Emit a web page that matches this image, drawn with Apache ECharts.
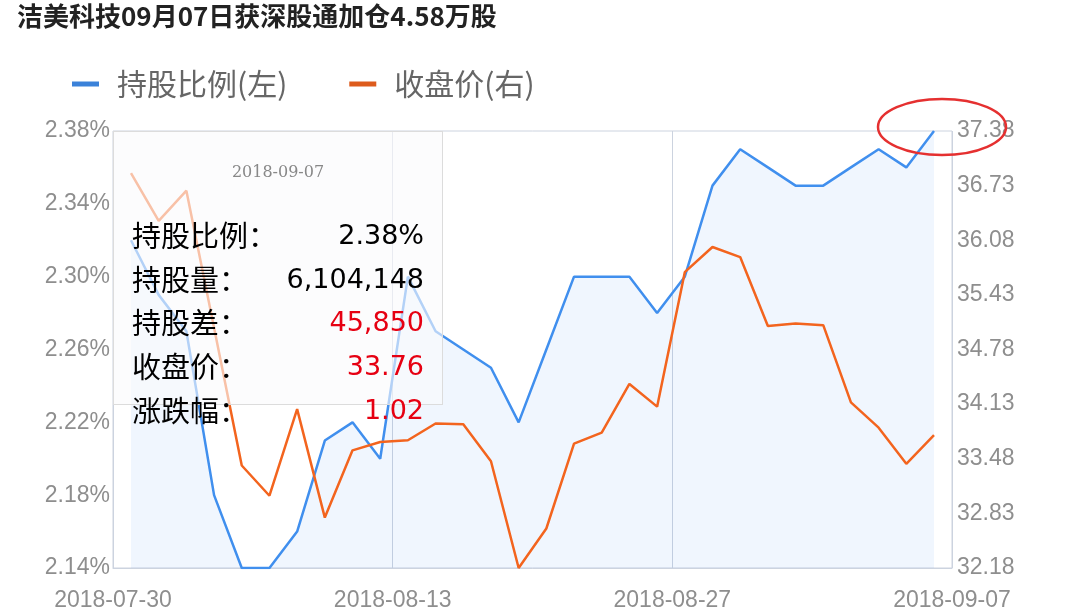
<!DOCTYPE html>
<html>
<head>
<meta charset="utf-8">
<title>洁美科技 深股通持股</title>
<script src="https://cdn.jsdelivr.net/npm/echarts@6/dist/echarts.min.js"></script>
<style>
    html, body { margin: 0; padding: 0; background: #fff; }
    #main { width: 1069px; height: 616px; }
</style>
</head>
<body>
<div id="main"></div>
<script>
// trading days shown on the chart
var dates = [
    '2018-07-30', '2018-07-31', '2018-08-01', '2018-08-02', '2018-08-03',
    '2018-08-06', '2018-08-07', '2018-08-08', '2018-08-09', '2018-08-10',
    '2018-08-13', '2018-08-14', '2018-08-15', '2018-08-16', '2018-08-17',
    '2018-08-20', '2018-08-21', '2018-08-22', '2018-08-23', '2018-08-24',
    '2018-08-27', '2018-08-28', '2018-08-29', '2018-08-30', '2018-08-31',
    '2018-09-03', '2018-09-04', '2018-09-05', '2018-09-06', '2018-09-07'
];
// 持股比例 (%)
var holdRatio = [
    2.32, 2.29, 2.27, 2.18, 2.14, 2.14, 2.16, 2.21, 2.22, 2.20,
    2.30, 2.27, 2.26, 2.25, 2.22, 2.26, 2.30, 2.30, 2.30, 2.28,
    2.30, 2.35, 2.37, 2.36, 2.35, 2.35, 2.36, 2.37, 2.36, 2.38
];
// 收盘价
var closePrice = [
    36.88, 36.31, 36.67, 35.04, 33.40, 33.04, 34.07, 32.78, 33.58, 33.68,
    33.70, 33.90, 33.89, 33.45, 32.18, 32.65, 33.66, 33.79, 34.37, 34.10,
    35.70, 36.00, 35.88, 35.06, 35.09, 35.07, 34.15, 33.85, 33.42, 33.76
];
// bottom axis labels (at 0, 10, 20, 30 trading-day boundaries)
var xTickLabels = ['2018-07-30', '2018-08-13', '2018-08-27', '2018-09-07'];
// figures for the day shown in the tooltip
var shownIndex = 29;
var heldShares = 6104148;
var heldDiff = 45850;

(function () {
    var chartDom = document.getElementById('main');
    var myChart = echarts.init(chartDom);
    var labelColor = '#8e8e8e';
    var lineColor = '#ccd3df';
    var axisFont = '"Liberation Sans", Arial, sans-serif';

    function fmt(n) {
        return n.toString().replace(/\B(?=(\d{3})+(?!\d))/g, ',');
    }

    function row(i, name, value, color) {
        return '<div style="position:absolute;left:18px;right:18px;top:' + (81 + i * 43.7) + 'px;' +
            'height:43.7px;line-height:43.7px;white-space:nowrap;">' +
            '<span style="float:left;font-family:\'Noto Sans CJK SC\';font-size:29px;color:#000;">' + name + '</span>' +
            '<span style="float:right;font-family:\'DejaVu Sans\';font-size:27px;color:' + color + ';">' + value + '</span>' +
            '</div>';
    }

    var option = {
        animation: false,
        title: {
            text: '洁美科技09月07日获深股通加仓4.58万股',
            left: 12,
            top: -2,
            textStyle: {
                fontFamily: 'Noto Sans CJK SC',
                fontSize: 26,
                fontWeight: 'bold',
                color: '#222'
            }
        },
        legend: {
            left: 67,
            top: 64,
            icon: 'rect',
            itemWidth: 27,
            itemHeight: 5,
            itemGap: 62,
            textStyle: {
                fontFamily: 'Noto Sans CJK SC',
                fontSize: 30,
                color: '#666',
                padding: [0, 0, 0, 13]
            },
            data: ['持股比例(左)', '收盘价(右)']
        },
        grid: {
            left: 113,
            right: 117,
            top: 131,
            bottom: 48,
            show: true,
            borderColor: lineColor,
            borderWidth: 1,
            containLabel: false
        },
        tooltip: {
            trigger: 'axis',
            triggerOn: 'none',
            alwaysShowContent: true,
            transitionDuration: 0,
            position: [113, 131],
            padding: 0,
            borderWidth: 1,
            borderRadius: 0,
            borderColor: '#dcdcdc',
            backgroundColor: 'rgba(250,250,252,0.62)',
            extraCssText: 'box-shadow:none;',
            axisPointer: { type: 'none' },
            formatter: function (params) {
                var i = params[0].dataIndex;
                var chg = (closePrice[i] - closePrice[i - 1]) / closePrice[i - 1] * 100;
                return '<div style="position:relative;width:328px;height:272px;">' +
                    '<div style="position:absolute;left:0;right:0;top:30px;line-height:20px;text-align:center;' +
                    'font-family:\'DejaVu Serif\';font-size:16px;color:#888;">' + dates[i] + '</div>' +
                    row(0, '持股比例：', holdRatio[i].toFixed(2) + '%', '#000') +
                    row(1, '持股量：', fmt(heldShares), '#000') +
                    row(2, '持股差：', fmt(heldDiff), '#e60012') +
                    row(3, '收盘价：', closePrice[i].toFixed(2), '#e60012') +
                    row(4, '涨跌幅：', chg.toFixed(2), '#e60012') +
                    '</div>';
            }
        },
        xAxis: [
            {
                type: 'value',
                min: -0.65,
                max: 29.65,
                show: false
            },
            {
                type: 'value',
                position: 'bottom',
                min: 0,
                max: 30,
                interval: 10,
                axisLine: { show: true, lineStyle: { color: lineColor } },
                axisTick: { show: false },
                splitLine: { show: true, lineStyle: { color: lineColor, width: 1 } },
                axisLabel: {
                    margin: 21,
                    fontFamily: axisFont,
                    fontSize: 23,
                    color: labelColor,
                    formatter: function (v) { return xTickLabels[Math.round(v / 10)]; }
                }
            }
        ],
        yAxis: [
            {
                type: 'value',
                position: 'left',
                min: 2.14,
                max: 2.38,
                interval: 0.04,
                axisLine: { show: false },
                axisTick: { show: false },
                splitLine: { show: false },
                axisLabel: {
                    margin: 3,
                    fontFamily: axisFont,
                    fontSize: 23,
                    color: labelColor,
                    formatter: function (v) { return v.toFixed(2) + '%'; }
                }
            },
            {
                type: 'value',
                position: 'right',
                min: 32.18,
                max: 37.38,
                interval: 0.65,
                axisLine: { show: false },
                axisTick: { show: false },
                splitLine: { show: false },
                axisLabel: {
                    margin: 5,
                    fontFamily: axisFont,
                    fontSize: 23,
                    color: labelColor,
                    formatter: function (v) { return v.toFixed(2); }
                }
            }
        ],
        series: [
            {
                name: '持股比例(左)',
                type: 'line',
                xAxisIndex: 0,
                yAxisIndex: 0,
                symbol: 'none',
                color: '#3b82d9',
                lineStyle: { width: 2.5 },
                areaStyle: { color: 'rgba(59,130,217,0.11)' },
                data: holdRatio.map(function (v, i) { return [i, v]; })
            },
            {
                name: '收盘价(右)',
                type: 'line',
                xAxisIndex: 0,
                yAxisIndex: 1,
                symbol: 'none',
                color: '#dd5b1c',
                lineStyle: { width: 2.5 },
                data: closePrice.map(function (v, i) { return [i, v]; })
            }
        ],
        graphic: [
            {
                type: 'ellipse',
                z: 100,
                shape: { cx: 942, cy: 127, rx: 64, ry: 28 },
                style: { fill: 'none', stroke: '#e53030', lineWidth: 2.5 }
            }
        ]
    };

    option && myChart.setOption(option);
    myChart.dispatchAction({ type: 'showTip', seriesIndex: 0, dataIndex: shownIndex });
})();
</script>
</body>
</html>
